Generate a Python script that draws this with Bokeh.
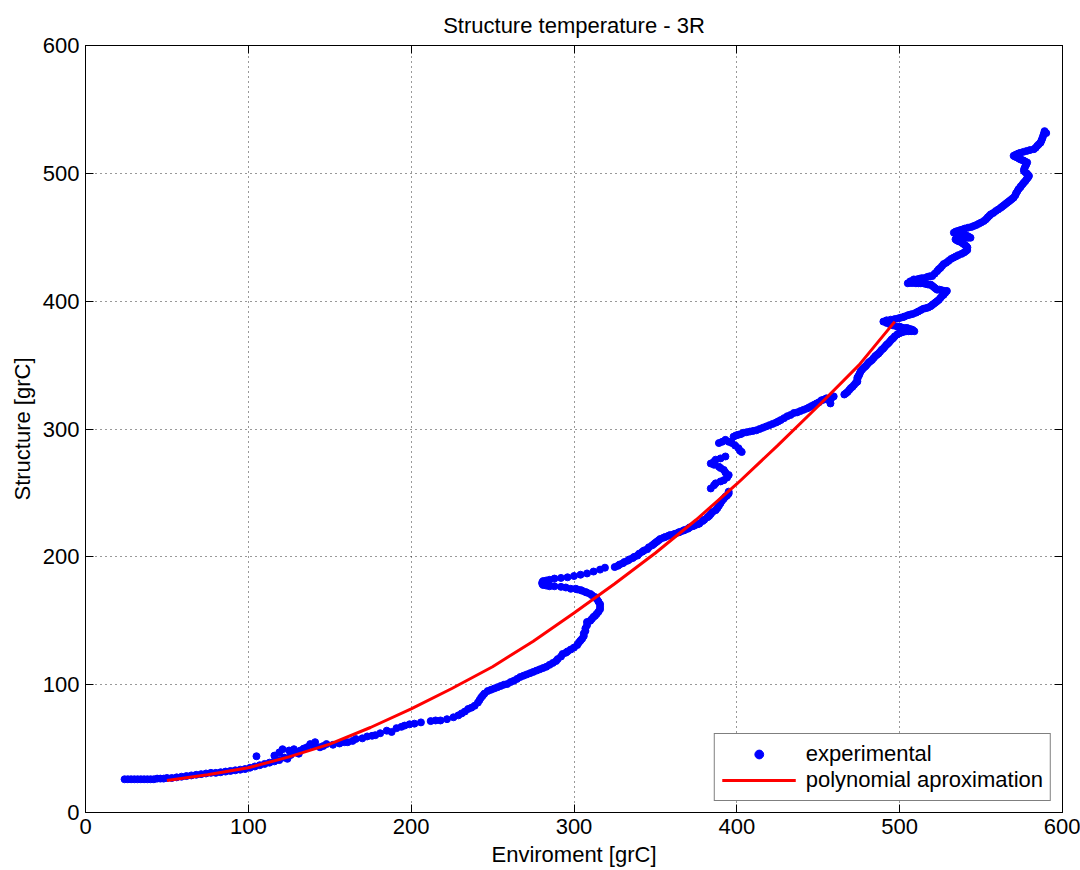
from bokeh.plotting import figure
from bokeh.models import Range1d, LinearAxis, FixedTicker, CustomJSTickFormatter, Legend, LegendItem
from bokeh.embed import file_html
from bokeh.resources import INLINE

FONT = "Liberation Sans"

title_text = "Structure temperature - 3R"
x_label = "Enviroment [grC]"
y_label = "Structure [grC]"
tick_values = [0, 100, 200, 300, 400, 500, 600]

seg_start = [(24, 26), (26, 26), (28, 26), (30, 26), (32, 26), (34, 26), (36, 26), (38, 26), (40, 26), (42, 26),
             (44, 26.5), (46, 26.5), (48, 26.5), (50, 27), (53, 27), (56, 27.5), (59, 28), (62, 28.5), (65, 29),
             (68, 29.5), (71, 30), (74, 30.5), (77, 31), (80, 31), (83, 31.5), (86, 32), (89, 32.5), (92, 33),
             (95, 33.5), (98, 34), (101, 35), (104, 36)]
seg_scatter = [(105, 44), (107, 37), (110, 38), (113, 39), (116, 40), (116, 44.5), (119, 41), (119, 47),
               (121, 49.5), (122, 43), (124, 42), (125, 48.5), (126, 45), (128, 49.5), (129, 47), (131, 46),
               (132, 48.5), (134, 50), (136, 51), (138, 53.5), (140, 52), (141, 55), (144, 51), (146, 52),
               (148, 53.5), (152, 53), (156, 54), (159, 55), (161, 55), (164, 56), (166, 57.5), (170, 58),
               (173, 59.5), (176, 60), (178, 60.5), (181, 62), (185, 64), (188, 63), (191, 66), (194, 67),
               (196, 68), (199, 69), (202, 69.5), (206, 70.5), (212, 71.5), (215, 72), (218, 72), (222, 73)]
seg_lower = [(226, 74.5), (229, 76), (231, 77.5), (233, 79), (235, 81), (237, 82), (239, 83.5), (241, 86),
             (242, 88), (243, 90), (244, 91.5), (245, 93), (247, 95), (249, 96), (251, 97), (253, 98), (255, 99),
             (257, 100), (259, 100.5), (261, 102), (263, 103), (265, 104.5), (267, 106), (269, 107), (271, 108),
             (273, 109), (275, 110), (277, 111), (279, 112), (281, 113), (283, 114), (285, 115.5), (287, 117),
             (289, 118.5), (290, 120), (292, 122), (293, 124), (295, 125), (296, 126), (298, 127.5), (300, 129),
             (302, 131), (303, 133), (304, 134.5), (305, 136), (306, 138), (306, 140), (307, 142), (307, 144),
             (308, 146.5), (308, 149), (310, 150), (311, 151.5), (312, 153), (313, 154), (314, 155.5), (315, 157),
             (316, 159), (316, 161), (316, 163), (315, 165), (314, 167), (313, 168.5), (311, 170), (310, 171),
             (308, 172), (307, 172.5), (305, 173.5), (304, 174), (302, 174.5), (301, 175), (298, 175), (295, 176),
             (292, 176.5), (288, 177), (285, 177), (283, 177.5), (281, 178), (280.5, 179), (280.5, 180),
             (281, 181), (283, 181.5), (285, 182), (288, 183), (292, 183.5), (296, 184), (300, 185), (304, 186),
             (308, 187), (312, 188.5), (316, 190), (319, 191.5)]
seg_middle = [(325, 192), (327, 193), (328, 194), (330, 195), (331, 196), (333, 197), (334, 198), (336, 199),
              (337, 200), (339, 201), (340, 202.5), (342, 204), (343, 205), (345, 206), (346, 207.5), (348, 209),
              (349, 210), (350, 211), (351, 212), (352, 213), (353, 214), (355, 215), (356, 215.5), (358, 216.5),
              (359, 217), (361, 217.5), (362, 218), (364, 219), (365, 219.5), (367, 220.5), (368, 221), (370, 222),
              (371, 223), (373, 224), (374, 224.5), (376, 225.5), (377, 226), (379, 228), (380, 229), (382, 231),
              (383, 232), (384, 233.5), (385, 235), (387, 236.5), (388, 238), (389, 240), (390, 242), (391, 244),
              (392, 245.5), (393, 247), (394, 248), (395, 249.5), (395, 251)]
seg_zigzag = [(384, 253.5), (386, 256), (387, 257.5), (390, 259), (392, 260), (394, 262), (395, 264), (393, 266),
              (392, 268), (390, 269.5), (389, 270.5), (386, 272), (384, 273), (386, 274.5), (387, 276), (390, 277),
              (393, 278.5), (389, 289), (391, 290), (393, 291.5), (395, 290), (397, 289), (399, 287), (401, 285),
              (402, 283), (403, 282)]
seg_upper = [(398, 294), (399.5, 295), (401, 295.5), (402.5, 296), (404, 297), (406, 297.5), (408, 298),
             (410, 298.5), (412, 299), (414, 300), (416, 301), (418, 302), (420, 303), (422, 304), (424, 305),
             (425.5, 306), (427, 307), (429, 308.5), (431, 310), (433, 311), (435, 312.5), (437, 313), (439, 314),
             (441, 315), (443, 316), (444.5, 317), (446, 318), (447.5, 319), (449, 320), (450.5, 321), (452, 322.5),
             (453.5, 323), (455, 324), (457.5, 320), (457, 322), (458, 324), (459.5, 325.5)]
seg_rise = [(466, 327), (467, 328), (468, 329), (469, 330.5), (470, 332), (471, 333), (472, 334.5), (473, 336),
            (474, 337), (474, 338.5), (474, 340), (474.5, 341), (475, 342), (475.5, 343.5), (476, 345), (477, 346.5),
            (478, 348), (479, 349), (480, 350.5), (481, 352), (482, 353), (483, 354), (484, 355.5), (485, 357),
            (486, 358), (487, 359), (488, 360.5), (489, 362), (490, 363), (491, 364.5), (492, 366), (493, 367),
            (494, 368.5), (495, 370), (496, 371), (497, 372.5), (498.5, 374), (500, 375), (501, 375.5),
            (502.5, 376), (504, 376.5), (505.5, 376.5), (507, 376.5), (509, 376.5), (508, 377.5), (507, 378),
            (505.5, 378.5), (504.5, 379), (503, 379), (501, 379.5), (500, 380), (498.5, 380), (496, 381),
            (494, 382), (492, 383), (490, 384), (492, 385), (494.5, 385.5), (497, 386), (499, 386.5), (500.5, 387),
            (502, 387.5), (503, 388), (505, 389), (506.5, 389.5), (508, 390), (510, 391), (511.5, 392), (513, 393),
            (514.5, 394), (516, 394.5), (517.5, 395), (519, 396), (520, 397), (521, 398), (522, 399), (523, 400),
            (524, 401), (525, 402.5), (526, 404), (527, 405), (528, 406.5), (529, 408)]
seg_top1 = [(527.5, 408), (526, 408.5), (524.5, 409), (523, 409), (522, 410), (521, 411), (520, 412), (519, 413),
            (517.5, 413), (516, 413.5), (514.5, 414), (513, 414), (511.5, 414), (510, 414), (508, 414.2),
            (506.7, 414.3), (505, 414), (506.5, 415.5), (508.7, 417), (510.5, 417), (512, 417.5), (513.5, 418),
            (515, 418), (517, 419), (518.5, 419.5), (520, 419.6), (521.5, 421.5), (523, 423.5), (524, 425),
            (525, 426), (526, 427.5), (527, 429), (528.5, 430), (530, 431.5), (531.5, 433), (533, 434),
            (534.5, 435), (536, 436), (538, 437), (539.5, 438), (540.5, 439), (541.5, 440), (541.6, 442),
            (541, 443), (540, 444), (539, 445), (538.4, 445.7), (537, 446.5), (536, 447), (535, 447.7),
            (534.3, 448.4), (536, 449), (537.4, 449.6), (539, 449.6), (540, 449.6), (542, 449.6), (543.5, 449.6),
            (542.5, 450.3), (541.5, 451), (540.5, 451.5), (539.5, 452), (538, 452.5), (536, 453), (534.5, 453.3),
            (533.3, 453.6), (534.5, 454.5), (536, 455), (537, 455.5), (538.4, 456), (540, 456.8), (542, 457.5),
            (544, 458), (545.5, 458.8), (547, 459.5), (548.5, 460.5), (550, 461.5), (551.7, 462.7)]
seg_top2 = [(553, 464), (554, 465.5), (555, 466.7), (556, 468), (557.5, 469), (559, 470.5), (560.5, 471.7),
            (562, 473), (563, 474), (564, 475), (565, 476), (566, 477), (567, 478), (568, 479), (569, 480),
            (570, 481), (571, 482.8), (571.5, 484.5), (572.3, 486), (573, 487.6), (574, 489), (574.5, 490),
            (575.5, 491.5), (576.3, 492.8), (577.2, 494), (578, 495.5), (578.8, 496.7), (579.4, 498), (578.7, 499),
            (578, 500), (577, 501), (576.3, 502), (576.5, 503.5), (577, 505), (577.7, 506.7), (578.3, 508.5),
            (577, 509.3), (576, 510), (575, 510.5), (574, 511), (573, 511.8), (572, 512.5), (571, 513),
            (570, 513.7), (571, 514.3), (572, 515), (573, 515.5), (574, 516), (576, 516.8), (578, 517.5),
            (580, 518.2), (582.4, 518.9), (583.5, 520), (584.5, 521.5), (585.5, 522.8), (586.5, 524), (587, 525.5),
            (587.5, 527), (588, 528.8), (588.5, 530.7), (589, 532), (589, 533), (590, 531.5)]

# polynomial approximation curve
fit_x = [50, 75, 100, 125, 150, 175, 200, 225, 250, 275, 300, 325, 350, 375, 400, 425, 450, 475, 497]
fit_y = [25, 29.5, 35, 43.5, 53.5, 66.5, 81, 97, 114, 134, 156, 179, 203, 229, 257, 287, 318, 350, 384]

segments = [seg_start, seg_scatter, seg_lower, seg_middle, seg_zigzag, seg_upper, seg_rise, seg_top1, seg_top2]
exp_x = [pt[0] for seg in segments for pt in seg]
exp_y = [pt[1] for seg in segments for pt in seg]

p = figure(width=1080, height=870, output_backend="svg", toolbar_location=None,
           x_range=Range1d(0, 600), y_range=Range1d(0, 600),
           min_border_left=85, min_border_right=18, min_border_top=45, min_border_bottom=58)

p.background_fill_color = "white"
p.border_fill_color = "white"
p.outline_line_color = "black"
p.outline_line_width = 1

p.title.text = title_text
p.title.align = "center"
p.title.text_font = FONT
p.title.text_font_size = "22px"
p.title.text_font_style = "normal"
p.title.text_color = "black"
p.title.standoff = 16

for ax in (p.xaxis[0], p.yaxis[0]):
    ax.ticker = FixedTicker(ticks=tick_values)
    ax.major_label_text_font = FONT
    ax.major_label_text_font_size = "22px"
    ax.major_label_text_color = "black"
    ax.axis_label_text_font = FONT
    ax.axis_label_text_font_size = "22px"
    ax.axis_label_text_font_style = "normal"
    ax.axis_label_text_color = "black"
    ax.major_tick_in = 8
    ax.major_tick_out = 0
    ax.minor_tick_line_color = None
    ax.axis_line_color = "black"
    ax.major_tick_line_color = "black"
    ax.axis_label_standoff = 5
    ax.major_label_standoff = 6
p.xaxis[0].axis_label = x_label
p.yaxis[0].axis_label = y_label

for loc in ("above", "right"):
    ax = LinearAxis(ticker=FixedTicker(ticks=tick_values),
                    formatter=CustomJSTickFormatter(code="return ''"),
                    major_tick_in=8, major_tick_out=0, minor_tick_line_color=None,
                    axis_line_color="black", major_tick_line_color="black")
    p.add_layout(ax, loc)

p.grid.ticker = FixedTicker(ticks=tick_values)
p.grid.grid_line_color = "black"
p.grid.grid_line_alpha = 0.8
p.grid.grid_line_dash = "1 4"
p.grid.grid_line_width = 1

exp_r = p.scatter(exp_x, exp_y, marker="circle", size=7, fill_color="#0000ff", line_color="#0000ff")
fit_r = p.line(fit_x, fit_y, line_color="#ff0000", line_width=3)

legend = Legend(items=[LegendItem(label="experimental", renderers=[exp_r]),
                       LegendItem(label="polynomial aproximation", renderers=[fit_r])],
                location="bottom_right")
legend.label_text_font = FONT
legend.label_text_font_size = "22px"
legend.label_text_color = "black"
legend.glyph_width = 74
legend.glyph_height = 22
legend.label_height = 22
legend.label_standoff = 10
legend.spacing = 0
legend.padding = 7
legend.margin = 11
legend.border_line_color = "black"
legend.border_line_width = 1
legend.background_fill_color = "white"
legend.background_fill_alpha = 1
p.add_layout(legend, "center")

open("out.html", "w").write(file_html(p, INLINE))
